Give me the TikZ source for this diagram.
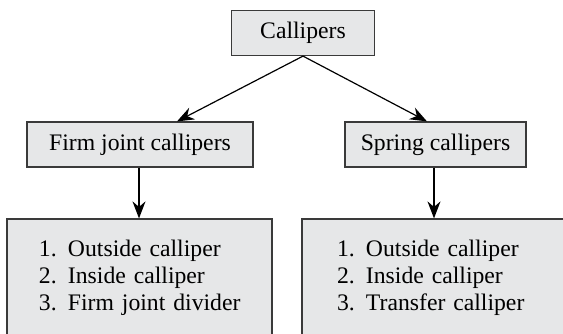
\documentclass[tikz,border=0pt]{standalone}
\usepackage{fontspec}
\setmainfont{Liberation Serif}
\newfontfamily\timesfont{Liberation Serif}
\usepackage{xcolor}
\usetikzlibrary{arrows.meta}

\definecolor{boxfill}{HTML}{E6E7E8}
\definecolor{boxline}{HTML}{3A3A3A}
\newcommand{\itm}[2]{\mbox{\makebox[14.5pt][l]{#1}#2}}

\begin{document}
\begin{tikzpicture}[x=0.5pt, y=-0.5pt, line width=0.6pt, >={Stealth[length=8.5pt,width=6.5pt]},
    box/.style={draw=boxline, fill=boxfill, minimum height=22.5pt, inner sep=0pt,
        font=\timesfont\fontsize{11.85}{13.5}\selectfont},
    listbox/.style={box, align=left, text width=100.5pt, inner xsep=16pt, minimum height=58.5pt}]
    \useasboundingbox (0,0) rectangle (563,333);
    \clip (0,0) rectangle (563,333);
    % top level
    \node[box, minimum width=71.5pt] (callipers) at (303,33) {Callipers};
    % two kinds
    \node[box, minimum width=113pt] (firm) at (140,144.5) {Firm joint callipers};
    \node[box, minimum width=90.5pt] (spring) at (435.5,144.5) {Spring callipers};
    % lists (cut off at the page edge)
    \node[listbox, minimum width=132.5pt] (firmlist) at (139.5,277.5)
        {\itm{1.}{Outside calliper}\\ \itm{2.}{Inside calliper}\\ \itm{3.}{Firm joint divider}};
    \node[listbox, minimum width=139pt, text width=104pt, inner xsep=17.5pt] (springlist) at (441,277.5)
        {\itm{1.}{Outside calliper}\\ \itm{2.}{Inside calliper}\\ \itm{3.}{Transfer calliper}};
    % arrows
    \draw[->] (callipers.south) -- ([xshift=18.5pt]firm.north);
    \draw[->] (callipers.south) -- ([xshift=-4.25pt]spring.north);
    \draw[->] ([xshift=-0.5pt]firm.south) -- ([xshift=-0.5pt]firm.south |- firmlist.north);
    \draw[->] ([xshift=-0.75pt]spring.south) -- ([xshift=-0.75pt]spring.south |- springlist.north);
\end{tikzpicture}
\end{document}
